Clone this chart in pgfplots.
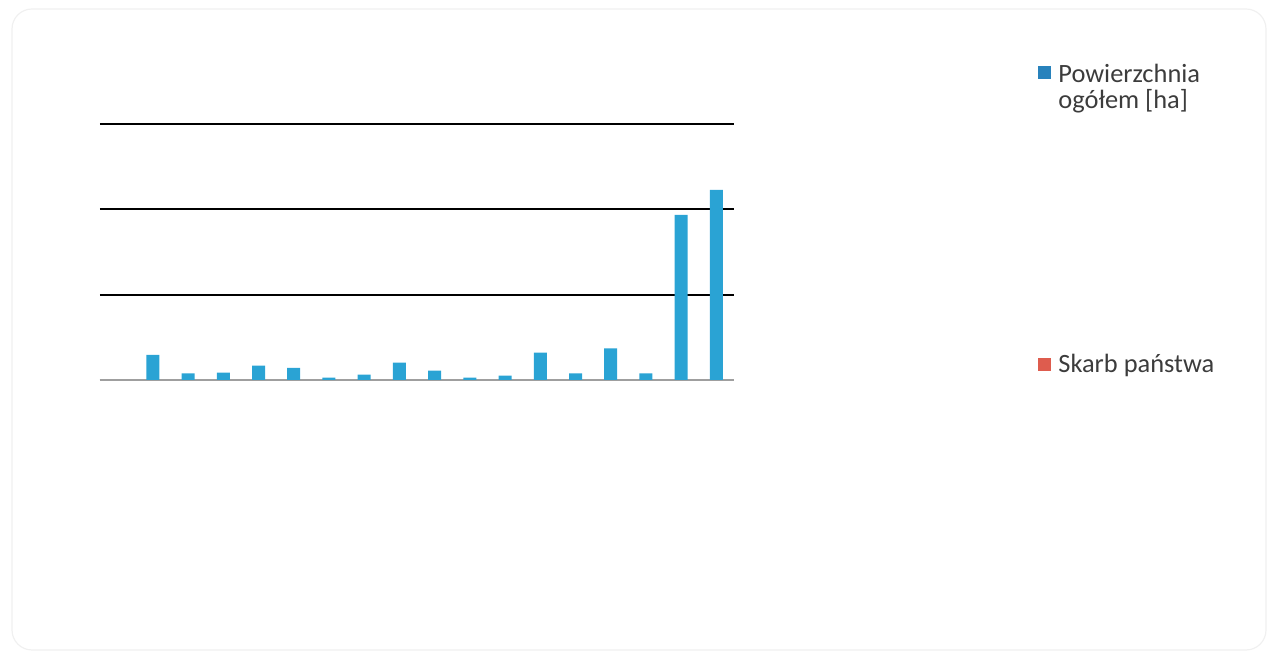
\documentclass[border=0pt]{standalone}
\usepackage{pgfplots}
\pgfplotsset{compat=1.18}
\usepackage{fontspec}
\setmainfont{Carlito}
\definecolor{barblue}{RGB}{42,163,212}
\definecolor{legblue}{RGB}{40,130,188}
\definecolor{legred}{RGB}{222,92,78}
\definecolor{txt}{RGB}{60,60,60}
\begin{document}
\begin{tikzpicture}
% page: 1pt = 2px of the reference
\useasboundingbox (0,0) rectangle (635pt,326.5pt);
\draw[gray!12, line width=0.6pt, rounded corners=10pt] (6pt,1.5pt) rectangle (633pt,322pt);
\begin{axis}[
    at={(50pt,136.5pt)}, anchor=south west,
    scale only axis, width=317pt, height=128pt,
    xmin=-0.5, xmax=17.5, ymin=0, ymax=3,
    axis line style={draw=none}, clip=false,
    ytick={0,1,2,3}, yticklabels={}, xtick=\empty,
    major tick length=0pt,
    ymajorgrids, major grid style={black, line width=0.9pt},
    ybar, bar width=6.5pt,
]
\draw[gray!75, line width=0.9pt] (axis cs:-0.5,0) -- (axis cs:17.5,0);
\addplot[fill=barblue, draw=none] coordinates {
    (1,0.293) (2,0.078) (3,0.086) (4,0.168) (5,0.141)
    (6,0.027) (7,0.062) (8,0.203) (9,0.109) (10,0.027) (11,0.050)
    (12,0.320) (13,0.078) (14,0.371) (15,0.078) (16,1.934) (17,2.227)
};
\end{axis}
% legend
\fill[legblue] (519pt,287pt) rectangle (525.5pt,293.5pt);
\node[anchor=base west, inner sep=0pt, text=txt, font=\fontsize{13.2}{15}\selectfont] at (529pt,285pt) {Powierzchnia};
\node[anchor=base west, inner sep=0pt, text=txt, font=\fontsize{13.2}{15}\selectfont] at (529pt,272pt) {ogółem [ha]};
\fill[legred] (519pt,140.8pt) rectangle (525.5pt,147.3pt);
\node[anchor=base west, inner sep=0pt, text=txt, font=\fontsize{13.2}{15}\selectfont] at (529pt,140pt) {Skarb państwa};
\end{tikzpicture}
\end{document}
